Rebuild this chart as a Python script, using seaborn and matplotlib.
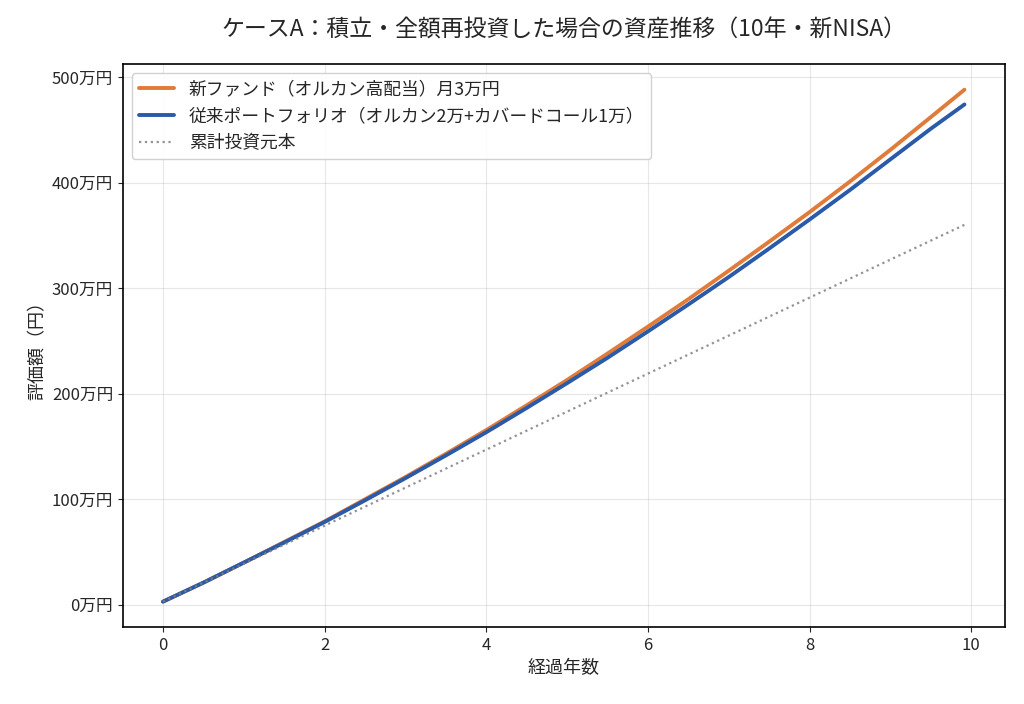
import numpy as np
import pandas as pd
import matplotlib
matplotlib.use("Agg")
import matplotlib.pyplot as plt
import seaborn as sns
from matplotlib.ticker import FuncFormatter

# ==========================
# DATA (万円)
# ==========================
years = [0, 0.5, 1, 1.5, 2, 2.5, 3, 3.5, 4, 4.5, 5, 5.5, 6, 6.5, 7, 7.5, 8, 8.5, 9, 9.5, 119 / 12]
new_fund = [3, 21, 40, 59.5, 79, 100, 121, 143, 165.5, 189, 213, 238, 263.5, 289.5, 316.5, 344,
            372, 401, 431, 462, 488]
old_portfolio = [3, 21, 40, 59, 78.5, 99, 120, 141.5, 163.5, 186.5, 210, 234, 259, 284.5, 310.5,
                 337.5, 365, 393, 422, 451, 474]
principal = [3, 21, 39, 57, 75, 93, 111, 129, 147, 165, 183, 201, 219, 237, 255, 273,
             291, 309, 327, 345, 360]

label_new = "新ファンド（オルカン高配当）月3万円"
label_old = "従来ポートフォリオ（オルカン2万+カバードコール1万）"
label_principal = "累計投資元本"

df = pd.DataFrame({
    "years": years,
    "new": new_fund,
    "old": old_portfolio,
    "principal": principal,
})

# ==========================
# PLOT
# ==========================
sns.set_style("ticks")
plt.rcParams["font.family"] = ["Noto Sans CJK JP", "DejaVu Sans"]

fig, ax = plt.subplots(figsize=(10.24, 7.04), dpi=100)

sns.lineplot(data=df, x="years", y="new", ax=ax, color="#E07B39", linewidth=2.8, label=label_new)
sns.lineplot(data=df, x="years", y="old", ax=ax, color="#2B5BA8", linewidth=2.8, label=label_old)
sns.lineplot(data=df, x="years", y="principal", ax=ax, color="gray", linewidth=1.6,
             linestyle=":", alpha=0.85, label=label_principal)

ax.yaxis.set_major_formatter(FuncFormatter(lambda v, p: f"{int(v)}万円"))
ax.set_xlabel("経過年数", fontsize=13)
ax.set_ylabel("評価額（円）", fontsize=13)
ax.set_title("ケースA：積立・全額再投資した場合の資産推移（10年・新NISA）", fontsize=16.5, pad=20)
ax.tick_params(labelsize=12)
ax.grid(True, color="#b0b0b0", alpha=0.3)
for s in ax.spines.values():
    s.set_color("black")
    s.set_linewidth(1.2)
ax.legend(loc="upper left", fontsize=12.8, framealpha=0.9)

fig.subplots_adjust(left=0.120, right=0.981, top=0.909, bottom=0.109)
plt.savefig("out.png", dpi=100)
